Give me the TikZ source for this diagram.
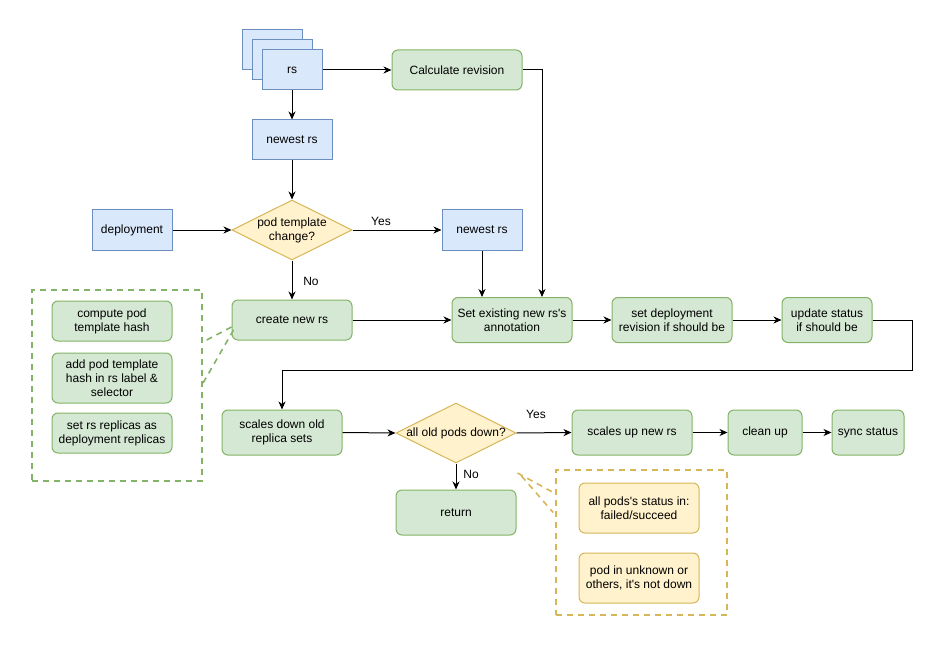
\documentclass[tikz,border=0pt]{standalone}
\usepackage{fontspec}
\setmainfont{Liberation Sans}[Ligatures=TeXOff]
\usetikzlibrary{arrows.meta,shapes.geometric}
\definecolor{bfill}{HTML}{DAE8FC}
\definecolor{bline}{HTML}{6C8EBF}
\definecolor{gfill}{HTML}{D5E8D4}
\definecolor{gline}{HTML}{82B366}
\definecolor{yfill}{HTML}{FFF2CC}
\definecolor{yline}{HTML}{D6B656}
\begin{document}
\begin{tikzpicture}[x=1pt,y=-1pt, font=\fontsize{12}{14}\selectfont, line width=1pt,
  base/.style={draw, align=center, inner sep=0pt},
  bluebox/.style={base, fill=bfill, draw=bline},
  greenbox/.style={base, fill=gfill, draw=gline, rounded corners=6pt},
  yellowbox/.style={base, fill=yfill, draw=yline, rounded corners=6pt},
  decision/.style={base, diamond, fill=yfill, draw=yline, minimum width=120pt, minimum height=60pt},
  arr/.style={-{Stealth[length=8pt,width=7pt,inset=2.5pt]}, black},
  grpbox/.style={draw, line width=1.6pt, dash pattern=on 6pt off 5pt, minimum width=#1, inner sep=0pt},
  callout/.style={draw, line width=1.6pt, dash pattern=on 6pt off 5pt},
  lbl/.style={inner sep=0pt}]
\useasboundingbox (0,0) rectangle (950,647);

% rs stack
\node[bluebox, minimum width=60pt, minimum height=40pt] (rsb1) at (272,50) {};
\node[bluebox, minimum width=60pt, minimum height=40pt] (rsb2) at (282,60) {};
\node[bluebox, minimum width=60pt, minimum height=40pt] (rs) at (292,70) {rs};

\node[greenbox, minimum width=130pt, minimum height=40pt] (calc) at (457,70) {Calculate revision};
\node[bluebox, minimum width=80pt, minimum height=40pt] (newest1) at (292,140) {newest rs};
\node[bluebox, minimum width=80pt, minimum height=40pt] (deploy) at (132,230) {deployment};
\node[decision, label={[align=center]center:pod template\\change?}] (d1) at (292,230) {};
\node[bluebox, minimum width=80pt, minimum height=40pt] (newest2) at (482,230) {newest rs};

\node[greenbox, minimum width=120pt, minimum height=40pt] (create) at (292,320) {create new rs};
\node[greenbox, minimum width=120pt, minimum height=45pt] (setann) at (512,320) {Set existing new rs's\\annotation};
\node[greenbox, minimum width=120pt, minimum height=45pt] (setrev) at (672,320) {set deployment\\revision if should be};
\node[greenbox, minimum width=90pt, minimum height=45pt] (upd) at (827,320) {update status\\if should be};

% left group
\node[grpbox=170pt, draw=gline, minimum height=191pt] (grp1) at (117,385.5) {};
\node[greenbox, minimum width=120pt, minimum height=40pt] (hash) at (112,321) {compute pod\\template hash};
\node[greenbox, minimum width=120pt, minimum height=50pt] (addhash) at (112,378) {add pod template\\hash in rs label \&\\selector};
\node[greenbox, minimum width=120pt, minimum height=40pt] (setrep) at (112,433) {set rs replicas as\\deployment replicas};

% bottom row
\node[greenbox, minimum width=120pt, minimum height=45pt] (down) at (282,432.5) {scales down old\\replica sets};
\node[decision, label={center:all old pods down?}] (d2) at (456,433) {};
\node[greenbox, minimum width=120pt, minimum height=45pt] (up) at (632,432.5) {scales up new rs};
\node[greenbox, minimum width=74pt, minimum height=45pt] (clean) at (765,432.5) {clean up};
\node[greenbox, minimum width=72pt, minimum height=45pt] (sync) at (868,432.5) {sync status};
\node[greenbox, minimum width=120pt, minimum height=45pt] (ret) at (456,512.5) {return};

% right group
\node[grpbox=171pt, draw=yline, minimum height=145pt] (grp2) at (641.5,542.5) {};
\node[yellowbox, minimum width=120pt, minimum height=50pt] (st1) at (639,508) {all pods's status in:\\failed/succeed};
\node[yellowbox, minimum width=120pt, minimum height=50pt] (st2) at (639,578) {pod in unknown or\\others, it's not down};

% callouts
\draw[callout, draw=gline] ([shift={(0,7)}]create.west) -- ([shift={(0,-43.5)}]grp1.east);
\draw[callout, draw=gline] ([shift={(2,10)}]create.west) -- ([shift={(0,-2)}]grp1.east);
\draw[callout, draw=yline] ([shift={(1,40)}]d2.east) -- ([shift={(0,-49)}]grp2.west);
\draw[callout, draw=yline] ([shift={(5,43)}]d2.east) -- ([shift={(-2,-30)}]grp2.west);

% connectors
\draw[arr] (rs.east) -- (calc.west);
\draw[arr] (calc.east) -| ([xshift=30pt]setann.north);
\draw[arr] (rs.south) -- (newest1.north);
\draw[arr] (newest1.south) -- (d1.north);
\draw[arr] (deploy.east) -- (d1.west);
\draw[arr] (d1.east) -- (newest2.west);
\node[lbl] (yes1) at (381,221) {Yes};
\draw[arr] (newest2.south) -- (setann.north -| newest2.south);
\draw[arr] (d1.south) -- (create.north);
\node[lbl] (no1) at (311,281) {No};
\draw[arr] (create.east) -- (setann.west);
\draw[arr] (setann.east) -- (setrev.west);
\draw[arr] (setrev.east) -- (upd.west);
\draw[arr] (upd.east) -- ++(40,0) -- ++(0,50) -| (down.north);
\draw[arr] (down.east) -- (d2.west);
\draw[arr] (d2.east) -- (up.west);
\node[lbl] (yes2) at (536,414) {Yes};
\draw[arr] (d2.south) -- (ret.north);
\node[lbl] (no2) at (471,474) {No};
\draw[arr] (up.east) -- (clean.west);
\draw[arr] (clean.east) -- (sync.west);
\end{tikzpicture}
\end{document}
